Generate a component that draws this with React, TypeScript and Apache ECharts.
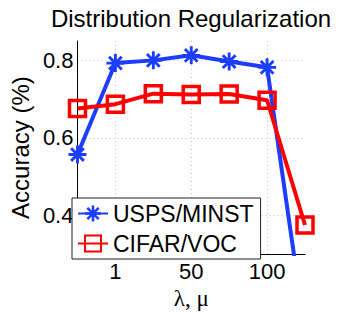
import React, { useEffect, useRef } from 'react';
import * as echarts from 'echarts';

const xTickLabels = ['', '1', '', '50', '', '100', ''];
const seriesNames = ['USPS/MINST', 'CIFAR/VOC'];
const uspsMinst = [0.557, 0.793, 0.8, 0.813, 0.797, 0.782, 0.1];
const cifarVoc = [0.676, 0.687, 0.714, 0.712, 0.713, 0.697, 0.375];
const yTickLabels = ['0.4', '0.6', '0.8'];

const BLUE = '#1c3cff';
const RED = '#ff0000';
const FONT = 'Liberation Sans, Arial, Helvetica, sans-serif';

const ASTERISK =
  'path://M0 42H100V58H0Z M42 0H58V100H42Z ' +
  'M20.3 8.98L91 79.7L79.7 91L8.98 20.3Z ' +
  'M79.7 8.98L91 20.3L20.3 91L8.98 79.7Z';

export default function App() {
  const ref = useRef<HTMLDivElement>(null);
  useEffect(() => {
    document.body.style.margin = '0';
    if (!ref.current) return;
    const chart = echarts.init(ref.current, undefined, { renderer: 'svg' });
    const shownX = new Set(xTickLabels.map((l, i) => (l ? i : -1)).filter((i) => i >= 0));
    chart.setOption({
      animation: false,
      backgroundColor: '#fff',
      title: {
        text: 'Distribution Regularization',
        left: 186,
        textAlign: 'center',
        top: 1,
        textStyle: { fontFamily: FONT, fontSize: 24, fontWeight: 'normal', color: '#000' },
      },
      grid: { left: 69, top: 41, width: 236, height: 219 },
      legend: {
        orient: 'vertical',
        left: 72,
        top: 198,
        padding: [4, 7, 4, 5],
        itemGap: 7,
        itemWidth: 30,
        itemHeight: 20,
        backgroundColor: '#fff',
        borderColor: '#222',
        borderWidth: 1,
        borderRadius: 0,
        textStyle: { fontFamily: FONT, fontSize: 23, color: '#000' },
        data: seriesNames,
      },
      xAxis: {
        type: 'category',
        data: xTickLabels,
        boundaryGap: false,
        name: 'λ, μ',
        nameLocation: 'middle',
        nameGap: 27,
        nameTextStyle: { fontFamily: 'Liberation Serif, Times New Roman, serif', fontSize: 23, color: '#000' },
        axisLine: { show: true, lineStyle: { color: '#000', width: 1 } },
        axisTick: { show: false },
        axisLabel: {
          interval: 0,
          margin: 6,
          fontFamily: FONT,
          fontSize: 22,
          color: '#000',
        },
        splitLine: {
          show: true,
          interval: (i: number) => shownX.has(i),
          lineStyle: { color: '#c4c4c4', width: 1, type: [1, 3] },
        },
      },
      yAxis: {
        type: 'value',
        min: 0.3,
        max: 0.85,
        interval: 0.1,
        name: 'Accuracy (%)',
        nameLocation: 'middle',
        nameGap: 42,
        nameTextStyle: { fontFamily: FONT, fontSize: 24, color: '#000' },
        axisLine: { show: true, lineStyle: { color: '#000', width: 1 } },
        axisTick: { show: false },
        axisLabel: {
          margin: 4,
          fontFamily: FONT,
          fontSize: 22,
          color: '#000',
          formatter: (v: number) => {
            const s = v.toFixed(1);
            return yTickLabels.includes(s) && Math.abs(v - parseFloat(s)) < 1e-6 ? s : '';
          },
        },
        splitLine: {
          show: true,
          lineStyle: { color: ['transparent', '#c4c4c4'], width: 1, type: [1, 3] },
        },
      },
      series: [
        {
          name: seriesNames[0],
          type: 'line',
          data: uspsMinst,
          symbol: ASTERISK,
          symbolSize: 18,
          lineStyle: { color: BLUE, width: 4 },
          itemStyle: { color: BLUE },
          clip: true,
        },
        {
          name: seriesNames[1],
          type: 'line',
          data: cifarVoc,
          symbol: 'rect',
          symbolSize: 16,
          lineStyle: { color: RED, width: 4 },
          itemStyle: { color: 'transparent', borderColor: RED, borderWidth: 3.5 },
          clip: true,
        },
      ],
    });
    return () => chart.dispose();
  }, []);
  return <div ref={ref} style={{ width: 337, height: 315 }} />;
}
